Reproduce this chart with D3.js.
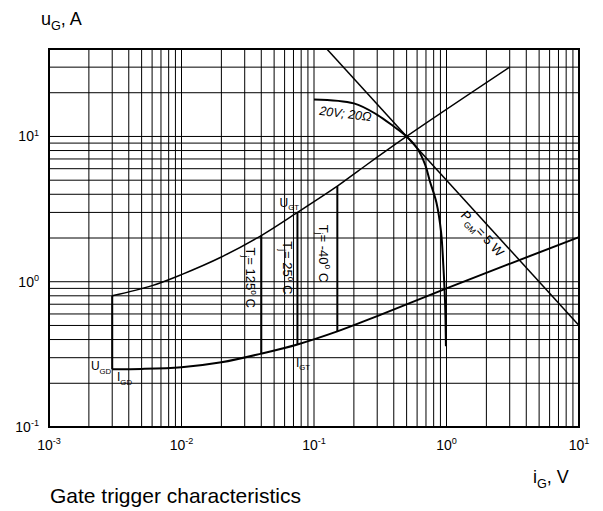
<!DOCTYPE html>
<html>
<head>
<meta charset="utf-8">
<script src="https://cdn.jsdelivr.net/npm/d3@7.9.0/dist/d3.min.js"></script>
<style>
  body { margin: 0; background: #fff; }
  svg { font-family: "Liberation Sans", Arial, sans-serif; }
</style>
</head>
<body>
<svg id="chart" width="603" height="511"></svg>
<script>
// axis ranges
const xDomain = [1e-3, 10];
const yDomain = [0.1, 40];
const xTickExp = [-3, -2, -1, 0, 1];
const yTickExp = [-1, 0, 1];

// upper edge of the trigger area (U_GT side)
const upperCurve = [[0.003, 0.8], [0.006, 0.94], [0.01, 1.12], [0.02, 1.48], [0.04, 2.08],
  [0.075, 3.0], [0.15, 4.55], [0.216, 5.8], [0.5, 10], [3, 30]];
// lower edge (I_GT / U_GD side)
const lowerCurve = [[0.003, 0.25], [0.005, 0.251], [0.01, 0.258], [0.02, 0.279], [0.04, 0.32],
  [0.075, 0.37], [0.15, 0.455], [0.3, 0.58], [1, 0.9], [10, 2.03]];
// 20V; 20 ohm load line
const loadLine = [[0.1, 18], [0.2, 16.9], [0.3, 14.1], [0.4, 11.7], [0.5, 10], [0.6, 8.3],
  [0.69, 6.4], [0.75, 4.9], [0.84, 3.5], [0.91, 2.2], [0.946, 1.3], [0.974, 0.75], [0.99, 0.36]];
// P_GM = 5 W
const powerLine = [[0.125, 40], [10, 0.5]];
// junction temperature lines
const tempNames = ['125', '25', '-40'];
const tempX = [0.04, 0.075, 0.15];
const tempLow = [0.32, 0.37, 0.455];
const tempHigh = [2.08, 3.0, 4.55];

const svg = d3.select('#chart');
const plotL = 49, plotR = 579, plotT = 49, plotB = 427;

const x = d3.scaleLog().domain(xDomain).range([plotL, plotR]);
const y = d3.scaleLog().domain(yDomain).range([plotB, plotT]);

// grid
const grid = svg.append('g').attr('stroke', '#000').attr('stroke-width', 1);
x.ticks().forEach(t => {
  grid.append('line').attr('x1', x(t)).attr('x2', x(t)).attr('y1', plotT).attr('y2', plotB);
});
y.ticks().forEach(t => {
  grid.append('line').attr('y1', y(t)).attr('y2', y(t)).attr('x1', plotL).attr('x2', plotR);
});

svg.append('rect')
  .attr('x', plotL).attr('y', plotT)
  .attr('width', plotR - plotL).attr('height', plotB - plotT)
  .attr('fill', 'none').attr('stroke', '#000').attr('stroke-width', 2);

// text with sub / superscript pieces
function rich(g, parts, size, ratio = 0.65) {
  let shift = 0;
  parts.forEach(([txt, kind]) => {
    let target = kind === 'sub' ? size * 0.3 : kind === 'sup' ? -size * 0.4 : 0;
    g.append('tspan')
      .attr('dy', target - shift)
      .attr('font-size', kind ? size * ratio : size)
      .text(txt);
    shift = target;
  });
}

// tick labels
xTickExp.forEach(e => {
  let t = svg.append('text').attr('x', x(Math.pow(10, e))).attr('y', 450)
    .attr('text-anchor', 'middle').attr('font-size', 14);
  rich(t, [['10', ''], [String(e), 'sup']], 14);
});
yTickExp.forEach(e => {
  let t = svg.append('text').attr('x', 39).attr('y', y(Math.pow(10, e)) + 5)
    .attr('text-anchor', 'end').attr('font-size', 14);
  rich(t, [['10', ''], [String(e), 'sup']], 14);
});

// axis titles
let yt = svg.append('text').attr('x', 41).attr('y', 25).attr('font-size', 18);
rich(yt, [['u', ''], ['G', 'sub'], [', A', '']], 18, 0.7);
let xt = svg.append('text').attr('x', 533).attr('y', 483).attr('font-size', 18);
rich(xt, [['i', ''], ['G', 'sub'], [', V', '']], 18, 0.7);

svg.append('text').attr('x', 50).attr('y', 503).attr('font-size', 21)
  .text('Gate trigger characteristics');

// curves
const line = d3.line().x(d => x(d[0])).y(d => y(d[1])).curve(d3.curveCatmullRom.alpha(0.5));
const straight = d3.line().x(d => x(d[0])).y(d => y(d[1]));

svg.append('path').attr('d', straight(powerLine))
  .attr('fill', 'none').attr('stroke', '#000').attr('stroke-width', 1.5);
svg.append('path').attr('d', line(upperCurve))
  .attr('fill', 'none').attr('stroke', '#000').attr('stroke-width', 1.5);
svg.append('path').attr('d', line(lowerCurve))
  .attr('fill', 'none').attr('stroke', '#000').attr('stroke-width', 2);
svg.append('path').attr('d', line(loadLine))
  .attr('fill', 'none').attr('stroke', '#000').attr('stroke-width', 2);
svg.append('path').attr('d', straight([lowerCurve[0], upperCurve[0]]))
  .attr('fill', 'none').attr('stroke', '#000').attr('stroke-width', 2);

tempX.forEach((v, i) => {
  svg.append('line')
    .attr('x1', x(v)).attr('x2', x(v))
    .attr('y1', y(tempLow[i])).attr('y2', y(tempHigh[i]))
    .attr('stroke', '#000').attr('stroke-width', 2);
});

// annotations
const labelX = [0.0307, 0.0583, 0.110];
const labelY = [1.72, 1.9, 2.47];
tempNames.forEach((n, i) => {
  let t = svg.append('text').attr('font-size', 13)
    .attr('transform', `translate(${x(labelX[i])},${y(labelY[i])}) rotate(90)`);
  rich(t, [['T', ''], ['j', 'sub'], [`= ${n}`, ''], ['o', 'sup'], [' C', '']], 13);
});

let ugt = svg.append('text').attr('x', x(0.055)).attr('y', y(3.29)).attr('font-size', 12);
rich(ugt, [['U', ''], ['GT', 'sub']], 12);
let igt = svg.append('text').attr('x', x(0.073)).attr('y', y(0.26)).attr('font-size', 12);
rich(igt, [['I', ''], ['GT', 'sub']], 12);
let ugd = svg.append('text').attr('x', x(0.00295)).attr('y', y(0.247))
  .attr('text-anchor', 'end').attr('font-size', 12);
rich(ugd, [['U', ''], ['GD', 'sub']], 12);
let igd = svg.append('text').attr('x', x(0.00326)).attr('y', y(0.207)).attr('font-size', 12);
rich(igd, [['I', ''], ['GD', 'sub']], 12);

svg.append('text').attr('font-size', 12.5).attr('font-style', 'italic')
  .attr('transform', `translate(${x(0.109)},${y(14.1)}) rotate(7)`)
  .text('20V; 20Ω');

let pg = svg.append('text').attr('font-size', 13)
  .attr('transform', `translate(${x(1.265)},${y(2.85)}) rotate(47.6)`);
rich(pg, [['P', ''], ['GM', 'sub'], ['= 5 W', '']], 13);
</script>
</body>
</html>
